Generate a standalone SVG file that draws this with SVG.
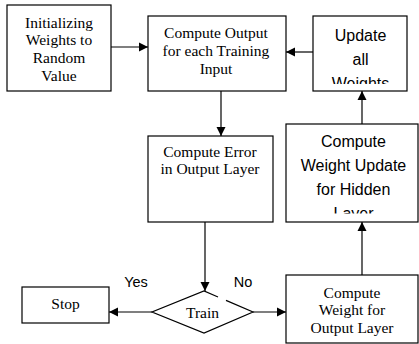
<svg xmlns="http://www.w3.org/2000/svg" width="419" height="344" viewBox="0 0 419 344">
<style>
.box{fill:#fff;stroke:#000;stroke-width:1.2}
.serif{font-family:"Liberation Serif","Times New Roman",serif;font-size:15.5px;fill:#000;text-anchor:middle}
.sans{font-family:"Liberation Sans",Arial,sans-serif;font-size:16px;fill:#000;text-anchor:middle}
.lbl{font-family:"Liberation Sans",Arial,sans-serif;font-size:14.5px;fill:#000;text-anchor:middle}
.conn{stroke:#000;stroke-width:1.2;fill:none;marker-end:url(#ah)}
</style>
<defs>
<marker id="ah" markerUnits="userSpaceOnUse" viewBox="0 0 10 10" refX="10" refY="5" markerWidth="9" markerHeight="10" orient="auto">
<path d="M0,0 L10,5 L0,10 z" fill="#000"/>
</marker>
<clipPath id="clipUpd"><rect x="313" y="16" width="94" height="68"/></clipPath>
<clipPath id="clipHid"><rect x="286" y="124" width="132" height="89.5"/></clipPath>
</defs>
<rect width="419" height="344" fill="#fff"/>
<g id="connectors">
<line class="conn" x1="111" y1="47" x2="148" y2="47"/>
<line class="conn" x1="313" y1="52" x2="286" y2="52"/>
<line class="conn" x1="221" y1="91" x2="221" y2="136"/>
<line class="conn" x1="205" y1="222" x2="205" y2="291"/>
<line class="conn" x1="152" y1="312" x2="109" y2="312"/>
<line class="conn" x1="253" y1="312" x2="286" y2="312"/>
<line class="conn" x1="362" y1="275" x2="362" y2="222"/>
<line class="conn" x1="362" y1="124" x2="362" y2="91"/>
</g>
<g id="init">
<rect class="box" x="7" y="5" width="104" height="86"/>
<text class="serif" x="59" y="27.5">Initializing</text>
<text class="serif" x="59" y="45.2">Weights to</text>
<text class="serif" x="59" y="62.9">Random</text>
<text class="serif" x="59" y="80.6">Value</text>
</g>
<g id="computeOutput">
<rect class="box" x="148" y="16" width="138" height="75"/>
<text class="serif" x="216" y="37.5">Compute Output</text>
<text class="serif" x="216" y="55.5">for each Training</text>
<text class="serif" x="216" y="73.5">Input</text>
</g>
<g id="updateWeights">
<rect class="box" x="313" y="16" width="94" height="75"/>
<g clip-path="url(#clipUpd)">
<text class="sans" x="360.5" y="40.5">Update</text>
<text class="sans" x="360.5" y="64.5">all</text>
<text class="sans" x="360.5" y="88.5">Weights</text>
</g>
</g>
<g id="computeError">
<rect class="box" x="148" y="136" width="125" height="86"/>
<text class="serif" x="210" y="157.3">Compute Error</text>
<text class="serif" x="210" y="174.3">in Output Layer</text>
</g>
<g id="computeHidden">
<rect class="box" x="286" y="124" width="132" height="98"/>
<g clip-path="url(#clipHid)">
<text class="sans" x="353.5" y="146.5">Compute</text>
<text class="sans" x="353.5" y="170.5">Weight Update</text>
<text class="sans" x="353.5" y="194.5">for Hidden</text>
<text class="sans" x="353.5" y="218.5">Layer</text>
</g>
</g>
<g id="train">
<path d="M218,297 L204,291 L152,312 L204,333 L253,312 L226,300.4" fill="#fff" stroke="#000" stroke-width="1.2"/>
<text class="serif" x="202.5" y="318">Train</text>
</g>
<g id="stop">
<rect class="box" x="22" y="287" width="87" height="36"/>
<text class="serif" x="65.5" y="308.5">Stop</text>
</g>
<g id="computeOutputWeight">
<rect class="box" x="286" y="275" width="132" height="68"/>
<text class="serif" x="352" y="297.5">Compute</text>
<text class="serif" x="352" y="315">Weight for</text>
<text class="serif" x="352" y="332.5">Output Layer</text>
</g>
<g id="labels">
<text class="lbl" x="136" y="287.3">Yes</text>
<text class="lbl" x="243" y="287.3">No</text>
</g>
</svg>
